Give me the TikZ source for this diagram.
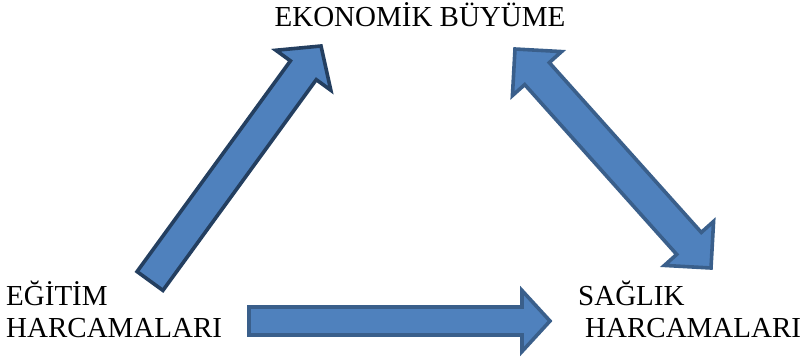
\documentclass[tikz,border=0pt]{standalone}
\usepackage{fontspec}
\setmainfont{Liberation Serif}
\usetikzlibrary{calc}
\definecolor{arrfill}{HTML}{4F81BD}
\definecolor{arrline}{HTML}{3A5F8B}
\definecolor{arrdark}{HTML}{243F60}
\tikzset{
  lbl/.style={font=\fontsize{29}{32}\selectfont, inner sep=0pt, align=left},
  blockarrow/.style={fill=arrfill, draw=arrline, line width=3.6pt, line join=miter},
}
\begin{document}
\begin{tikzpicture}[x=1pt,y=-1pt]
\useasboundingbox (0,0) rectangle (802,356);
% text nodes
\node[lbl, anchor=base] (ek) at (420,27) {EKONOMİK BÜYÜME};
\node[lbl, anchor=base west] (eg) at (6,337) {EĞİTİM\\HARCAMALARI};
\node[lbl, anchor=base west] (sa) at (578,337) {SAĞLIK\\\hspace*{7pt}HARCAMALARI};
% arrow 1: egitim -> ekonomik
\coordinate (a1t) at (150,281);
\coordinate (a1p) at (321,46);
\coordinate (a1h) at ($(a1p)!30pt!(a1t)$);
\draw[blockarrow, draw=arrdark]
  ($(a1t)!16pt!90:(a1p)$) -- ($(a1h)!16pt!90:(a1p)$) -- ($(a1h)!34pt!90:(a1p)$)
  -- (a1p) -- ($(a1h)!34pt!-90:(a1p)$) -- ($(a1h)!16pt!-90:(a1p)$)
  -- ($(a1t)!16pt!-90:(a1p)$) -- cycle;
% arrow 2: egitim -> saglik
\coordinate (a2t) at (249,321);
\coordinate (a2p) at (550,321);
\coordinate (a2h) at ($(a2p)!28pt!(a2t)$);
\draw[blockarrow]
  ($(a2t)!14pt!90:(a2p)$) -- ($(a2h)!14pt!90:(a2p)$) -- ($(a2h)!30.5pt!90:(a2p)$)
  -- (a2p) -- ($(a2h)!30.5pt!-90:(a2p)$) -- ($(a2h)!14pt!-90:(a2p)$)
  -- ($(a2t)!14pt!-90:(a2p)$) -- cycle;
% arrow 3: ekonomik <-> saglik
\coordinate (a3a) at (515,49);
\coordinate (a3b) at (711,268);
\coordinate (a3h1) at ($(a3a)!33pt!(a3b)$);
\coordinate (a3h2) at ($(a3b)!33pt!(a3a)$);
\draw[blockarrow]
  (a3a) -- ($(a3h1)!33pt!90:(a3b)$) -- ($(a3h1)!16.5pt!90:(a3b)$)
  -- ($(a3h2)!16.5pt!-90:(a3a)$) -- ($(a3h2)!33pt!-90:(a3a)$) -- (a3b)
  -- ($(a3h2)!33pt!90:(a3a)$) -- ($(a3h2)!16.5pt!90:(a3a)$)
  -- ($(a3h1)!16.5pt!-90:(a3b)$) -- ($(a3h1)!33pt!-90:(a3b)$) -- cycle;
\end{tikzpicture}
\end{document}
